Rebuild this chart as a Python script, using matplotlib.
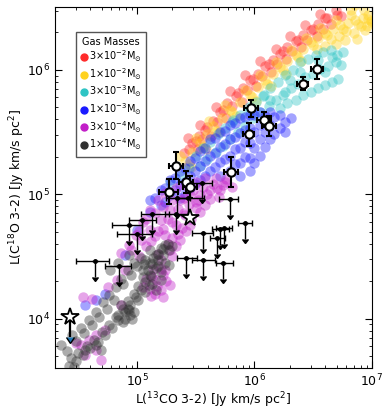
import numpy as np
import matplotlib
matplotlib.use("Agg")
import matplotlib.pyplot as plt
from matplotlib.lines import Line2D

# model grid as log10 L(13CO 3-2) and log10 L(C18O 3-2)
red_lx = [5.47, 5.53, 5.58, 5.65, 5.71, 5.77, 5.84, 5.90, 5.96, 6.03, 6.09, 6.16, 6.22, 6.28, 6.35, 6.41, 6.48, 6.54, 6.60, 6.69,
          5.43, 5.54, 5.67, 5.79, 5.92, 6.05, 6.18, 6.30, 6.43, 6.56,
          5.52, 5.63, 5.76, 5.89, 6.01, 6.14, 6.27, 6.40, 6.53, 6.65, 6.74, 5.40, 5.44,
          5.50, 5.60, 5.73, 5.86, 5.99, 6.12, 6.24, 6.37, 6.50, 6.62,
          5.55, 5.68, 5.81, 5.94, 6.06, 6.19, 6.32, 6.45, 6.58, 6.70]
red_ly = [5.41, 5.47, 5.52, 5.59, 5.66, 5.73, 5.79, 5.85, 5.92, 5.97, 6.03, 6.08, 6.13, 6.18, 6.23, 6.28, 6.32, 6.37, 6.42, 6.48,
          5.45, 5.56, 5.70, 5.83, 5.96, 6.07, 6.17, 6.27, 6.36, 6.45,
          5.36, 5.47, 5.61, 5.74, 5.87, 5.98, 6.09, 6.18, 6.27, 6.37, 6.43, 5.33, 5.36,
          5.43, 5.54, 5.68, 5.81, 5.93, 6.05, 6.15, 6.24, 6.33, 6.42,
          5.44, 5.58, 5.71, 5.84, 5.95, 6.05, 6.15, 6.24, 6.33, 6.44]

yel_lx = [5.41, 5.47, 5.54, 5.60, 5.65, 5.72, 5.79, 5.88, 5.96, 6.03, 6.09, 6.16, 6.22, 6.28, 6.35, 6.41, 6.48, 6.54, 6.60, 6.67,
          6.73, 6.80, 6.86, 6.92, 6.97,
          5.37, 5.50, 5.61, 5.75, 5.92, 6.05, 6.18, 6.31, 6.44, 6.56, 6.69, 6.82, 6.93,
          5.46, 5.59, 5.70, 5.84, 6.01, 6.14, 6.27, 6.40, 6.53, 6.65, 6.78, 6.91, 6.99,
          6.77, 6.87, 6.69, 6.94, 7.00, 6.86,
          5.44, 5.56, 5.67, 5.81, 5.98, 6.11, 6.24, 6.37, 6.50, 6.62, 6.75, 6.88, 6.97,
          6.60, 6.72, 6.85, 6.96, 6.82]
yel_ly = [5.27, 5.34, 5.41, 5.48, 5.55, 5.61, 5.68, 5.74, 5.80, 5.86, 5.92, 5.97, 6.02, 6.07, 6.12, 6.17, 6.22, 6.26, 6.30, 6.33,
          6.36, 6.38, 6.40, 6.42, 6.44,
          5.31, 5.45, 5.59, 5.72, 5.84, 5.96, 6.06, 6.16, 6.26, 6.34, 6.40, 6.44, 6.48,
          5.22, 5.36, 5.50, 5.63, 5.75, 5.87, 5.97, 6.07, 6.17, 6.25, 6.31, 6.35, 6.39,
          6.24, 6.25, 6.21, 6.32, 6.38, 6.52,
          5.24, 5.38, 5.51, 5.66, 5.78, 5.89, 6.00, 6.10, 6.20, 6.28, 6.33, 6.37, 6.41,
          6.19, 6.27, 6.30, 6.35, 6.48]

cyan_lx = [5.50, 5.62, 5.75, 5.88, 6.01, 6.13, 6.26, 6.39, 6.52, 6.65, 6.75,
           5.54, 5.67, 5.79, 5.92, 6.05, 6.18, 6.31, 6.43, 6.56, 6.69,
           6.22, 6.35, 6.48, 6.60, 6.71, 5.28, 5.37, 5.44,
           6.07, 5.95, 5.81, 6.54, 6.39, 6.26, 6.13, 6.30, 6.60, 6.66,
           5.56, 5.69, 5.82, 5.95, 6.08, 6.20, 6.33, 6.46, 6.58, 6.70,
           5.60, 5.73, 5.86, 5.99, 6.12, 6.24, 6.37, 6.50, 6.63, 6.74,
           6.28, 6.41, 6.54, 6.66]
cyan_ly = [5.31, 5.42, 5.53, 5.64, 5.74, 5.85, 5.96, 6.06, 6.12, 6.16, 6.14,
           5.23, 5.34, 5.44, 5.56, 5.66, 5.76, 5.85, 5.94, 6.01, 6.06,
           5.69, 5.76, 5.82, 5.88, 5.93, 5.10, 5.15, 5.21,
           5.79, 5.67, 5.58, 6.08, 5.98, 5.82, 5.76, 5.92, 5.98, 6.10,
           5.37, 5.48, 5.60, 5.70, 5.80, 5.90, 6.00, 6.09, 6.14, 6.12,
           5.28, 5.39, 5.50, 5.61, 5.71, 5.80, 5.89, 5.97, 6.03, 6.04,
           5.73, 5.80, 5.85, 5.90]

blue_lx = [5.11, 5.11, 5.20, 5.20, 5.28, 5.28, 5.37, 5.37, 5.37, 5.45, 5.45, 5.45,
           5.54, 5.54, 5.54, 5.62, 5.62, 5.62, 5.71, 5.71, 5.71, 5.71,
           5.79, 5.79, 5.79, 5.79, 5.88, 5.88, 5.88, 5.88, 5.88,
           5.96, 5.96, 5.96, 5.96, 5.96, 6.05, 6.05, 6.05, 6.05,
           6.13, 6.13, 6.13, 6.22, 6.22, 6.31,
           4.73, 4.56, 4.65, 5.00, 4.90,
           5.15, 5.24, 5.32, 5.41, 5.49, 5.58, 5.66, 5.75, 5.83, 5.92, 6.00, 6.09, 6.17, 6.26,
           5.24, 5.32, 5.41, 5.49, 5.58, 5.66, 5.75, 5.83, 5.92, 6.00, 6.09, 6.17, 6.26,
           5.41, 5.49, 5.58, 5.66, 5.75, 5.83, 5.92, 6.00, 6.09, 5.83, 5.92, 6.00]
blue_ly = [4.95, 4.86, 5.03, 4.91, 5.11, 4.99, 5.19, 5.07, 4.97, 5.27, 5.15, 5.05,
           5.35, 5.23, 5.11, 5.44, 5.31, 5.19, 5.50, 5.38, 5.26, 5.15,
           5.56, 5.44, 5.31, 5.19, 5.61, 5.49, 5.37, 5.25, 5.15,
           5.64, 5.53, 5.41, 5.29, 5.19, 5.66, 5.56, 5.44, 5.31,
           5.66, 5.56, 5.44, 5.64, 5.53, 5.61,
           4.20, 4.11, 4.15, 4.71, 4.51,
           4.97, 5.05, 5.13, 5.21, 5.29, 5.37, 5.45, 5.51, 5.57, 5.62, 5.64, 5.63, 5.62, 5.58,
           4.94, 5.03, 5.10, 5.19, 5.27, 5.33, 5.40, 5.46, 5.52, 5.50, 5.50, 5.48, 5.50,
           5.00, 5.08, 5.15, 5.22, 5.28, 5.36, 5.42, 5.37, 5.38, 5.24, 5.30, 5.25]

mag_lx = [4.86, 4.93, 4.99, 5.05, 5.11, 5.18, 5.24, 5.33, 5.41, 5.50, 5.58, 5.67, 5.75, 5.81,
          5.03, 5.11, 5.20, 5.28, 5.37, 5.45, 5.54, 5.62, 5.71,
          5.24, 5.33, 5.41, 5.50, 5.58,
          5.37, 5.28, 5.20, 5.24, 5.16, 5.11, 5.20, 5.28, 5.15, 5.22,
          4.75, 4.83, 4.90,
          4.86, 4.73, 4.65, 4.59, 4.52, 4.48, 4.56, 4.65, 4.69, 4.54, 4.62,
          4.95, 5.02, 5.08, 5.15, 5.22, 5.30, 5.40, 5.48, 5.56, 5.65, 5.73,
          5.12, 5.18, 5.26, 5.35, 5.44, 5.52, 5.62, 5.70,
          5.30, 5.38, 5.46, 5.54, 5.33, 5.42,
          5.14, 5.22, 5.08, 5.17, 5.25, 5.12,
          5.60, 5.68, 5.76, 5.50, 5.40, 5.30, 5.22, 5.15, 5.08, 5.02,
          5.45, 5.35, 5.26, 5.18, 5.30, 5.20, 5.13, 5.05]
mag_ly = [4.53, 4.59, 4.67, 4.78, 4.87, 4.95, 5.01, 5.05, 5.07, 5.10, 5.13, 5.13, 5.10, 5.06,
          4.63, 4.71, 4.79, 4.87, 4.95, 4.99, 4.99, 5.03, 5.03,
          4.67, 4.75, 4.83, 4.89, 4.91,
          4.63, 4.55, 4.47, 4.39, 4.31, 4.24, 4.23, 4.27, 4.20, 4.17,
          4.25, 4.31, 4.39,
          4.11, 3.91, 3.87, 3.83, 3.79, 3.80, 3.71, 3.75, 3.67, 4.17, 4.16,
          4.55, 4.70, 4.80, 4.85, 4.90, 4.95, 4.97, 5.03, 5.06, 5.08, 5.07,
          4.62, 4.70, 4.80, 4.88, 4.92, 4.95, 4.96, 4.98,
          4.65, 4.73, 4.80, 4.86, 4.58, 4.70,
          4.40, 4.35, 4.32, 4.26, 4.30, 4.18,
          5.00, 5.05, 5.12, 4.94, 4.85, 4.78, 4.72, 4.66, 4.58, 4.50,
          4.75, 4.68, 4.60, 4.52, 4.50, 4.40, 4.33, 4.25]

blk_lx = [4.42, 4.48, 4.54, 4.60, 4.67, 4.73, 4.79, 4.84, 4.90, 4.94, 4.99, 5.03, 5.07, 5.11,
          5.16, 5.18, 5.22, 5.27, 5.30, 5.24, 5.20, 5.13, 5.07, 5.01, 4.94, 4.88,
          4.35, 4.45, 4.52, 4.59, 4.65, 4.71, 4.76, 4.82, 4.86, 4.92, 4.97, 5.03, 4.77, 4.84, 4.93,
          4.86, 4.93, 4.96, 4.84,
          5.07, 5.11, 5.16, 5.20, 5.24, 5.11, 5.05, 5.10, 5.16, 5.20, 5.27,
          4.46, 4.56, 4.65, 4.69,
          4.44, 4.50, 4.57, 4.63, 4.70, 4.76, 4.82, 4.88, 4.92, 4.97, 5.01, 5.05, 5.09, 5.13, 5.18, 5.22, 5.26,
          4.40, 4.48, 4.55, 4.62, 4.68, 4.74, 4.80, 4.88, 4.95, 5.00,
          5.14, 5.18, 5.12, 5.06, 4.92, 4.97, 4.90]
blk_ly = [3.62, 3.66, 3.71, 3.76, 3.81, 3.87, 3.92, 3.99, 4.05, 4.11, 4.17, 4.23, 4.29, 4.35,
          4.41, 4.47, 4.51, 4.55, 4.58, 4.45, 4.37, 4.28, 4.21, 4.15, 4.03, 3.97,
          3.79, 3.87, 3.92, 3.99, 4.05, 4.13, 4.19, 4.25, 4.32, 4.39, 4.45, 4.49, 4.39, 4.45, 4.51,
          4.11, 4.07, 4.00, 4.03,
          4.47, 4.45, 4.51, 4.57, 4.59, 4.55, 4.39, 4.27, 4.23, 4.31, 4.43,
          3.61, 3.75, 3.79, 3.75,
          3.68, 3.72, 3.78, 3.83, 3.89, 3.95, 4.01, 4.08, 4.14, 4.20, 4.26, 4.33, 4.39, 4.44, 4.52, 4.56, 4.60,
          3.74, 3.82, 3.88, 3.95, 4.01, 4.08, 4.15, 4.28, 4.35, 4.42,
          4.49, 4.42, 4.34, 4.44, 4.08, 4.05, 4.00]

clouds = [(red_lx, red_ly), (yel_lx, yel_ly), (cyan_lx, cyan_ly),
          (blue_lx, blue_ly), (mag_lx, mag_ly), (blk_lx, blk_ly)]
cloud_colors = ["#ff2a2a", "#ffd21f", "#2ec4c4", "#1a1aff", "#c21ec8", "#303030"]
cloud_labels = [r"$3{\times}10^{-2}\mathrm{M}_{\odot}$", r"$1{\times}10^{-2}\mathrm{M}_{\odot}$",
                r"$3{\times}10^{-3}\mathrm{M}_{\odot}$", r"$1{\times}10^{-3}\mathrm{M}_{\odot}$",
                r"$3{\times}10^{-4}\mathrm{M}_{\odot}$", r"$1{\times}10^{-4}\mathrm{M}_{\odot}$"]

# detections (log10 values, errors in dex)
det_lx = [6.53, 6.41, 5.97, 6.08, 6.12, 5.95, 5.80, 5.33, 5.42, 5.45, 5.27]
det_ly = [6.01, 5.89, 5.69, 5.60, 5.55, 5.48, 5.18, 5.23, 5.10, 5.06, 5.02]
det_xerr = [0.05, 0.05, 0.06, 0.06, 0.06, 0.05, 0.06, 0.06, 0.06, 0.06, 0.08]
det_yerr = [0.08, 0.05, 0.07, 0.06, 0.08, 0.09, 0.12, 0.11, 0.09, 0.09, 0.10]

# C18O upper limits
ul_lx = [4.64, 4.85, 4.93, 5.00, 5.04, 5.13, 5.33, 5.34, 5.43, 5.55, 5.56, 5.79, 5.92, 5.71, 5.74, 5.68, 5.42, 5.56, 5.73]
ul_ly = [4.46, 4.42, 4.75, 4.68, 4.79, 4.84, 4.84, 4.97, 4.97, 5.09, 4.69, 4.96, 4.77, 4.72, 4.73, 4.65, 4.49, 4.47, 4.45]
ul_xlo = [0.16, 0.12, 0.14, 0.17, 0.11, 0.10, 0.09, 0.09, 0.09, 0.11, 0.09, 0.09, 0.06, 0.07, 0.07, 0.06, 0.08, 0.09, 0.06]
ul_xhi = [0.12, 0.10, 0.11, 0.13, 0.12, 0.14, 0.10, 0.11, 0.14, 0.09, 0.09, 0.07, 0.06, 0.07, 0.07, 0.07, 0.09, 0.10, 0.09]

# stars: one detection, one upper limit
star_lx = [5.45]
star_ly = [4.81]
star_ul_lx = [4.43]
star_ul_ly = [4.01]


def dex_err(lv, lo, hi):
    v = 10 ** np.asarray(lv)
    return v, [v - 10 ** (np.asarray(lv) - np.asarray(lo)), 10 ** (np.asarray(lv) + np.asarray(hi)) - v]


fig = plt.figure(figsize=(3.87, 4.13), dpi=100)
ax = fig.add_axes([0.142, 0.109, 0.819, 0.874])

for (lx, ly), c in zip(clouds, cloud_colors):
    ax.scatter(10 ** np.array(lx), 10 ** np.array(ly), s=56, color=c, alpha=0.4, lw=0, zorder=1)

# upper limits
x, xe = dex_err(ul_lx, ul_xlo, ul_xhi)
y = 10 ** np.array(ul_ly)
ax.errorbar(x, y, xerr=xe, yerr=y * (1 - 10 ** -0.13), uplims=True, fmt="o", ms=2.5,
            color="k", lw=1, capsize=2, zorder=3)

# detections
x, xe = dex_err(det_lx, det_xerr, det_xerr)
y, ye = dex_err(det_ly, det_yerr, det_yerr)
ax.errorbar(x, y, xerr=xe, yerr=ye, fmt="o", ms=6, mfc="white", mec="k", mew=1.5,
            ecolor="k", elinewidth=1.5, capsize=2, capthick=1.5, zorder=4)

ax.plot(10 ** np.array(star_lx), 10 ** np.array(star_ly), "*", ms=13, mfc="white", mec="k", mew=1.3, zorder=5)
y = 10 ** np.array(star_ul_ly)
ax.errorbar(10 ** np.array(star_ul_lx), y, yerr=y * (1 - 10 ** -0.16), uplims=True, fmt="none",
            ecolor="k", elinewidth=1.6, capsize=3, zorder=4)
ax.plot(10 ** np.array(star_ul_lx), y, "*", ms=13, mfc="white", mec="k", mew=1.3, zorder=5)

ax.set_xscale("log")
ax.set_yscale("log")
ax.set_xlim(2e4, 1e7)
ax.set_ylim(4e3, 3.2e6)
ax.tick_params(which="both", direction="in", top=True, right=True, labelsize=9)
ax.tick_params(which="major", length=5)
ax.tick_params(which="minor", length=2.5)
ax.set_xlabel(r"L($^{13}$CO 3-2) [Jy km/s pc$^2$]", fontsize=9, labelpad=1)
ax.set_ylabel(r"L(C$^{18}$O 3-2) [Jy km/s pc$^2$]", fontsize=9)
ax.yaxis.set_label_coords(-0.088, 0.5)

handles = [Line2D([], [], ls="", marker="o", ms=5, color=c) for c in cloud_colors]
leg = ax.legend(handles, cloud_labels, title="Gas Masses", loc="upper left",
                bbox_to_anchor=(0.066, 0.931), borderaxespad=0, fontsize=7, title_fontsize=7,
                handlelength=0.6, handletextpad=0.2, labelspacing=0.2, borderpad=0.5,
                fancybox=False, edgecolor="#555555", framealpha=1)

fig.savefig("out.png", dpi=100)
